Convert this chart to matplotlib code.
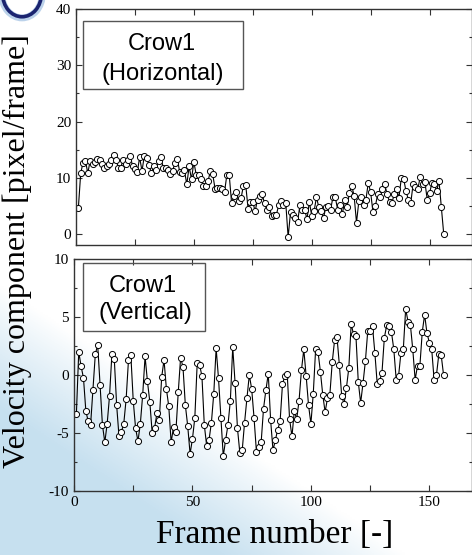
import numpy as np
import matplotlib
matplotlib.use("Agg")
import matplotlib.pyplot as plt
from matplotlib.patches import Rectangle, Circle
from matplotlib.ticker import MultipleLocator

# --- data (frames 1..156) ---
horizontal = [4.6, 10.8, 12.7, 13.0, 10.8, 13.0, 12.4, 12.8, 13.4, 13.2,
              12.4, 11.7, 12.1, 12.4, 13.2, 14.1, 13.1, 11.8, 11.8, 13.2,
              12.4, 13.1, 13.9, 12.1, 11.6, 11.0, 13.6, 11.2, 13.9, 13.5,
              12.2, 10.8, 12.1, 11.3, 13.0, 13.6, 11.8, 11.8, 11.3, 10.7,
              11.2, 12.7, 13.3, 11.0, 10.9, 11.3, 8.8, 12.0, 9.7, 12.8,
              10.5, 10.4, 9.8, 8.6, 8.6, 9.4, 11.1, 10.6, 8.0, 8.2,
              8.2, 7.9, 7.4, 10.5, 10.5, 5.5, 6.7, 7.4, 5.9, 6.3,
              8.5, 8.7, 4.5, 5.7, 5.7, 4.0, 6.1, 6.8, 7.0, 5.4,
              4.3, 4.8, 3.2, 3.4, 3.4, 5.1, 5.8, 5.2, 5.4, -0.6,
              3.8, 3.3, 2.9, 2.1, 5.1, 4.3, 4.3, 2.6, 5.7, 3.2,
              4.0, 6.5, 4.8, 4.0, 2.8, 4.8, 4.9, 4.3, 6.5, 6.5,
              4.3, 5.2, 3.5, 6.1, 4.8, 7.3, 8.6, 6.7, 2.0, 5.8,
              6.5, 5.1, 6.1, 9.1, 7.4, 3.8, 4.9, 7.1, 6.5, 7.9,
              8.8, 7.0, 5.7, 5.4, 7.1, 8.0, 6.4, 9.9, 9.8, 7.6,
              6.1, 5.4, 8.8, 8.3, 7.9, 10.1, 8.9, 9.3, 6.1, 7.3,
              9.0, 8.9, 7.6, 9.4, 4.8, 0.0]

vertical = [-3.4, 2.0, 0.75, -0.26, -3.1, -4.0, -4.3, -1.3, 1.8, 2.6,
            -0.9, -4.3, -5.8, -4.2, -1.8, 1.8, 1.4, -2.6, -5.3, -4.9,
            -4.2, -2.1, 1.3, 1.7, -2.2, -4.6, -5.7, -4.2, -1.7, 1.6,
            -0.55, -2.3, -5.0, -4.6, -3.3, -3.9, -0.2, 1.3, -1.2, -2.7,
            -5.8, -4.5, -4.9, -1.5, 1.5, 0.7, -2.6, -4.4, -6.8, -5.5,
            -3.7, 1.0, 0.9, -0.1, -4.3, -6.1, -5.6, -4.1, -1.6, 2.3,
            -0.3, -3.7, -7.0, -5.6, -4.3, -2.2, 2.4, -0.7, -4.6, -6.7,
            -6.5, -4.1, -2.0, 0.0, -1.2, -3.7, -6.6, -6.2, -5.8, -2.9,
            -1.3, 0.1, -3.9, -6.5, -5.6, -4.7, -4.0, -0.8, -0.06, 0.1,
            -3.8, -5.3, -3.1, -3.8, -2.2, 0.4, 2.2, -0.1, -2.6, -4.2,
            -1.6, 2.25, 2.0, 0.3, -1.7, -3.2, -2.0, -1.7, 1.1, 3.0,
            3.3, 0.9, -1.8, -2.5, -1.1, 0.6, 4.4, 3.5, 3.4, -0.6,
            -2.4, -0.7, 1.2, 3.8, 3.8, 4.2, 1.9, -0.8, -0.5, 0.2,
            3.2, 4.3, 4.2, 3.7, 2.2, -0.4, -0.1, 1.9, 2.2, 5.7,
            4.6, 4.3, 2.2, -0.4, 0.8, 0.8, 3.7, 5.2, 3.6, 2.8,
            2.2, -0.4, 0.0, 1.8, 1.7, 0.0]

frames = list(range(1, len(horizontal) + 1))
x_ticks = [0, 50, 100, 150]

W, H = 472, 555
SERIF = ["Liberation Serif", "DejaVu Serif"]
SANS = ["Liberation Sans", "DejaVu Sans"]

plt.rcParams["font.family"] = SERIF
plt.rcParams["axes.unicode_minus"] = False


def fx(x):
    return x / W


def fy(y):
    return 1 - y / H


fig = plt.figure(figsize=(W / 100, H / 100), dpi=100)

# slide background: light blue sweep from the lower left
bg = fig.add_axes([0, 0, 1, 1], zorder=0)
u, v = np.meshgrid(np.linspace(0, 1, 300), np.linspace(0, 1, 300))
s = u / 0.78 + v / 0.44
a = np.clip((1.1 - s) / 0.5, 0, 1) ** 0.9
blue = np.array([0.78, 0.88, 0.94])
img = np.ones((300, 300, 3)) * (1 - a[..., None]) + blue * a[..., None]
bg.imshow(img, extent=[0, 1, 0, 1], origin="lower", aspect="auto")
bg.set_xlim(0, 1)
bg.set_ylim(0, 1)
bg.axis("off")
# corner of the logo
bg.add_patch(Circle((fx(22), fy(-6)), 0.043, transform=bg.transAxes,
                    fill=False, ec="#8fb4dd", lw=5, alpha=0.6))
bg.add_patch(Circle((fx(22), fy(-6)), 0.041, transform=bg.transAxes,
                    fill=False, ec="#1b2470", lw=2.6))


def style(ax):
    ax.set_facecolor("none")
    ax.set_xlim(0, 168)
    ax.xaxis.set_major_locator(MultipleLocator(50))
    ax.xaxis.set_minor_locator(MultipleLocator(25))
    ax.tick_params(which="both", direction="in", top=True, right=True,
                   width=0.8, color="#333333")
    ax.tick_params(which="major", length=4, labelsize=11)
    ax.tick_params(axis="x", which="minor", length=4)
    ax.tick_params(axis="y", which="minor", length=2.5)
    for sp in ax.spines.values():
        sp.set_linewidth(1.0)
        sp.set_color("#333333")


line_kw = dict(color="black", lw=0.8, marker="o", ms=4.4,
               mfc="white", mec="black", mew=0.7)

# top panel: horizontal component
ax1 = fig.add_axes([fx(76), fy(245), fx(472) - fx(76), (245 - 9.3) / H], zorder=1)
ax1.plot(frames, horizontal, **line_kw)
ax1.set_ylim(-2, 40)
ax1.set_yticks([0, 10, 20, 30, 40])
ax1.yaxis.set_minor_locator(MultipleLocator(5))
style(ax1)
ax1.tick_params(labelbottom=False)

# bottom panel: vertical component
ax2 = fig.add_axes([fx(74), fy(491), fx(472) - fx(74), (491 - 259) / H], zorder=1)
ax2.plot(frames, vertical, **line_kw)
ax2.set_ylim(-10, 10)
ax2.set_yticks([-10, -5, 0, 5, 10])
ax2.yaxis.set_minor_locator(MultipleLocator(2.5))
style(ax2)
ax2.set_xticks(x_ticks)

# label boxes
for (x0, y0, x1, y1) in [(83, 21, 243, 89), (83, 263, 205, 331)]:
    fig.add_artist(Rectangle((fx(x0), fy(y1)), fx(x1) - fx(x0), (y1 - y0) / H,
                             transform=fig.transFigure, fill=False,
                             ec="#555555", lw=1.0, zorder=3))

fig.text(fx(162), fy(50), "Crow1", ha="center", va="baseline",
         fontsize=17, family=SANS, zorder=4)
fig.text(fx(163), fy(80), "(Horizontal)", ha="center", va="baseline",
         fontsize=17, family=SANS, zorder=4)
fig.text(fx(143), fy(292), "Crow1", ha="center", va="baseline",
         fontsize=17, family=SANS, zorder=4)
fig.text(fx(145), fy(319), "(Vertical)", ha="center", va="baseline",
         fontsize=17, family=SANS, zorder=4)

# axis titles
fig.text(fx(17), fy(251), "Velocity component [pixel/frame]", rotation=90,
         ha="center", va="center", fontsize=23, zorder=4)
fig.text(fx(275), fy(543), "Frame number [-]", ha="center", va="baseline",
         fontsize=24, zorder=4)

fig.savefig("out.png", dpi=100)
